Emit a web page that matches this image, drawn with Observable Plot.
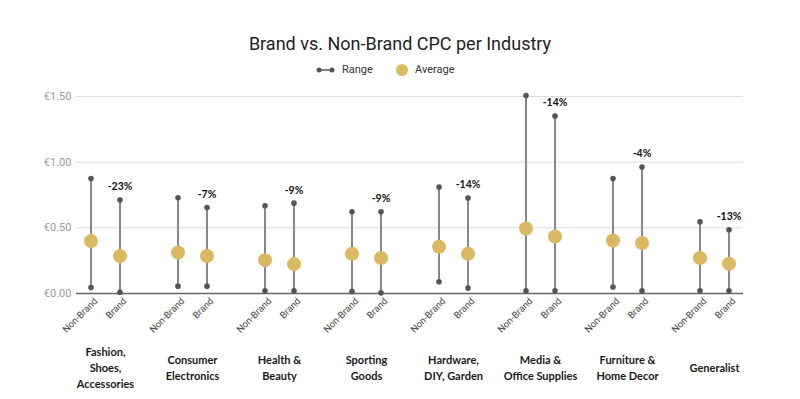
<!DOCTYPE html>
<html>
<head>
<meta charset="utf-8">
<script src="https://cdn.jsdelivr.net/npm/d3@7"></script>
<script src="https://cdn.jsdelivr.net/npm/@observablehq/plot@0.6"></script>
<style>
  body { margin: 0; background: #fff; }
  #wrap { position: relative; width: 800px; height: 399px; overflow: hidden; font-family: Roboto, sans-serif; }
  #title { position: absolute; top: 31px; left: 0; width: 800px; text-align: center; font-size: 18px; line-height: 26px; color: #222; font-family: Roboto, sans-serif; }
  #legend { position: absolute; top: 62px; left: 0; width: 800px; height: 16px; font-size: 11px; color: #333; }
  #legend .item { position: absolute; top: 0; height: 16px; line-height: 16px; }
  #chart { position: absolute; top: 0; left: 0; }
</style>
</head>
<body>
<div id="wrap">
  <div id="title">Brand vs. Non-Brand CPC per Industry</div>
  <div id="legend">
    <svg class="item" style="left:316px" width="20" height="16"><line x1="2" y1="8" x2="17" y2="8" stroke="#555" stroke-width="1.5"/><circle cx="3" cy="8" r="2.5" fill="#555"/><circle cx="16" cy="8" r="2.5" fill="#555"/></svg>
    <span class="item" style="left:342px">Range</span>
    <svg class="item" style="left:394px" width="16" height="16"><circle cx="8" cy="8" r="6" fill="#dbb963"/></svg>
    <span class="item" style="left:415px">Average</span>
  </div>
  <div id="chart"></div>
</div>
<script>
const industries = [
  "Fashion,\nShoes,\nAccessories",
  "Consumer\nElectronics",
  "Health &\nBeauty",
  "Sporting\nGoods",
  "Hardware,\nDIY, Garden",
  "Media &\nOffice Supplies",
  "Furniture &\nHome Decor",
  "Generalist"
];
const types = ["Non-Brand", "Brand"];
const nonBrandMin = [0.046, 0.056, 0.020, 0.015, 0.089, 0.020, 0.049, 0.020];
const nonBrandMax = [0.876, 0.729, 0.668, 0.622, 0.810, 1.508, 0.876, 0.546];
const nonBrandAvg = [0.400, 0.312, 0.254, 0.302, 0.356, 0.495, 0.404, 0.270];
const brandMin    = [0.010, 0.056, 0.020, 0.005, 0.041, 0.020, 0.020, 0.020];
const brandMax    = [0.711, 0.655, 0.688, 0.622, 0.727, 1.351, 0.963, 0.485];
const brandAvg    = [0.285, 0.285, 0.224, 0.270, 0.302, 0.434, 0.384, 0.226];
const diffLabels  = ["-23%", "-7%", "-9%", "-9%", "-14%", "-14%", "-4%", "-13%"];
const yTicks = [0, 0.5, 1, 1.5];

const rows = industries.flatMap((ind, i) => [
  {pos: i * 3, industry: ind, type: types[0], min: nonBrandMin[i], max: nonBrandMax[i], avg: nonBrandAvg[i]},
  {pos: i * 3 + 1, industry: ind, type: types[1], min: brandMin[i], max: brandMax[i], avg: brandAvg[i], label: diffLabels[i]}
]);
const groupPos = industries.map((d, i) => i * 3 + 0.5);
const tickPos = rows.map(d => d.pos);
const typeOf = new Map(rows.map(d => [d.pos, d.type]));
const nameOf = new Map(industries.map((d, i) => [i * 3 + 0.5, d]));

const chart = Plot.plot({
  width: 800,
  height: 399,
  marginTop: 96,
  marginBottom: 106,
  marginLeft: 76,
  marginRight: 57,
  style: {fontFamily: "Roboto, sans-serif", background: "transparent"},
  x: {type: "linear", domain: [-0.5, 22.5], axis: null},
  y: {domain: [0, 1.5], axis: null},
  marks: [
    Plot.ruleY(yTicks.filter(d => d > 0), {stroke: "#dcdcdc", strokeWidth: 1}),
    Plot.axisY({ticks: yTicks, tickSize: 0, tickPadding: 5, label: null, tickFormat: d => "€" + d3.format(".2f")(d), fill: "#9a9a9a", fontSize: 11}),
    Plot.ruleY([0], {stroke: "#666", strokeWidth: 1.5}),
    Plot.axisX({ticks: tickPos, tickSize: 0, tickPadding: 6, dx: 5, label: null, tickRotate: -45, tickFormat: d => typeOf.get(d), fill: "#444", fontSize: 9.5}),
    Plot.axisX({ticks: groupPos, tickSize: 0, tickPadding: 73, label: null, lineAnchor: "middle", lineHeight: 1.45, tickFormat: d => nameOf.get(d), fill: "#1a1a1a", fontSize: 11, fontWeight: "bold", fontFamily: "Lato, sans-serif"}),
    Plot.ruleX(rows, {x: "pos", y1: "min", y2: "max", stroke: "#888", strokeWidth: 2}),
    Plot.dot(rows, {x: "pos", y: "min", r: 2.8, fill: "#555"}),
    Plot.dot(rows, {x: "pos", y: "max", r: 2.8, fill: "#555"}),
    Plot.dot(rows, {x: "pos", y: "avg", r: 7, fill: "#dbb963"}),
    Plot.text(rows.filter(d => d.label), {x: "pos", y: "max", text: "label", dy: -13, fontSize: 10.5, fontWeight: "bold", fill: "#111", fontFamily: "Lato, sans-serif"})
  ]
});
document.getElementById("chart").appendChild(chart);
</script>
</body>
</html>
